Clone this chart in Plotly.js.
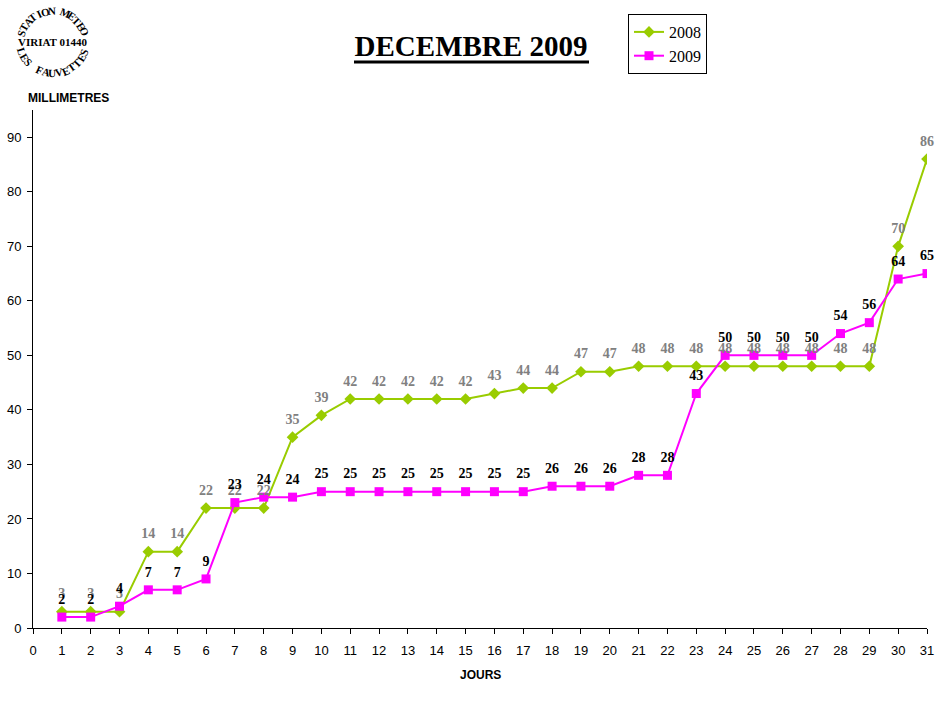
<!DOCTYPE html>
<html>
<head>
<meta charset="utf-8">
<script src="https://cdn.plot.ly/plotly-3.0.1.min.js"></script>
<style>html,body{margin:0;padding:0;background:#fff;}#chart{width:949px;height:715px;}</style>
</head>
<body>
<div id="chart"></div>
<script>
const days = [1,2,3,4,5,6,7,8,9,10,11,12,13,14,15,16,17,18,19,20,21,22,23,24,25,26,27,28,29,30,31];
const rain2008 = [3,3,3,14,14,22,22,22,35,39,42,42,42,42,42,43,44,44,47,47,48,48,48,48,48,48,48,48,48,70,86];
const rain2009 = [2,2,4,7,7,9,23,24,24,25,25,25,25,25,25,25,25,26,26,26,28,28,43,50,50,50,50,54,56,64,65];
const xTicks = [0,1,2,3,4,5,6,7,8,9,10,11,12,13,14,15,16,17,18,19,20,21,22,23,24,25,26,27,28,29,30,31];
const yTicks = [0,10,20,30,40,50,60,70,80,90];
const logoTop = "STATION METEO";
const logoMid = "VIRIAT 01440";
const logoBottom = "LES FAUVETTES";

const W = 949, H = 715, ml = 33, mr = 22, mt = 110, mb = 87;
const pw = W - ml - mr, ph = H - mt - mb;
function px2x(px){ return (px - ml) / pw; }
function py2y(py){ return (H - mb - py) / ph; }

const serif = "Liberation Serif, Times New Roman, serif";
const sans = "Liberation Sans, Arial, sans-serif";

const traces = [
  {
    x: days, y: rain2008, name: "2008", type: "scatter", mode: "lines+markers",
    line: {color: "#99CC00", width: 2},
    marker: {symbol: "diamond", size: 9, color: "#99CC00"},
    hoverinfo: "x+y"
  },
  {
    x: days, y: rain2009, name: "2009", type: "scatter", mode: "lines+markers",
    line: {color: "#FF00FF", width: 2},
    marker: {symbol: "square", size: 9, color: "#FF00FF"},
    hoverinfo: "x+y"
  },
  {
    x: days, y: rain2008, type: "scatter", mode: "markers+text", showlegend: false,
    marker: {size: 14, color: "rgba(0,0,0,0)"},
    text: rain2008.map(String), textposition: "top center",
    textfont: {family: serif, size: 14, color: "#808080", weight: "bold"},
    cliponaxis: false, hoverinfo: "skip"
  },
  {
    x: days, y: rain2009, type: "scatter", mode: "markers+text", showlegend: false,
    marker: {size: 14, color: "rgba(0,0,0,0)"},
    text: rain2009.map(String), textposition: "top center",
    textfont: {family: serif, size: 14, color: "#000000", weight: "bold"},
    cliponaxis: false, hoverinfo: "skip"
  }
];

const annotations = [
  {text: "<b>MILLIMETRES</b>", xref: "paper", yref: "paper", x: px2x(68), y: py2y(98),
   xanchor: "center", yanchor: "middle", showarrow: false, font: {family: sans, size: 12, color: "#000"}},
  {text: "<b>JOURS</b>", xref: "paper", yref: "paper", x: px2x(480), y: py2y(675),
   xanchor: "center", yanchor: "middle", showarrow: false, font: {family: sans, size: 12, color: "#000"}},
  {text: "<b>" + logoMid + "</b>", xref: "paper", yref: "paper", x: px2x(52), y: py2y(42),
   xanchor: "center", yanchor: "middle", showarrow: false, font: {family: serif, size: 11, color: "#000"}}
];

// circular logo lettering
const cx = 53, cy = 42, rx = 33, ry = 31;
function arc(str, a0, a1, bottom){
  const n = str.length;
  for (let i = 0; i < n; i++){
    const ch = str[i];
    if (ch === " ") continue;
    const a = a0 + (a1 - a0) * i / (n - 1);
    const r = a * Math.PI / 180;
    const x = cx + rx * Math.cos(r), y = cy - ry * Math.sin(r);
    const rot = bottom ? (270 - a) : (90 - a);
    annotations.push({text: "<b>" + ch + "</b>", xref: "paper", yref: "paper",
      x: px2x(x), y: py2y(y), xanchor: "center", yanchor: "middle", showarrow: false,
      textangle: rot, font: {family: serif, size: 11, color: "#000"}});
  }
}
arc(logoTop, 163, 20, false);
arc(logoBottom, 197, 341, true);

const layout = {
  width: W, height: H,
  margin: {l: ml, r: mr, t: mt, b: mb, pad: 0},
  paper_bgcolor: "#fff", plot_bgcolor: "#fff",
  title: {text: "<b>DECEMBRE 2009</b>", x: 471 / W, xanchor: "center", y: 1 - 46 / H, yanchor: "middle",
          font: {family: serif, size: 29, color: "#000"}},
  shapes: [
    {type: "line", xref: "paper", yref: "paper", x0: px2x(354), x1: px2x(589), y0: py2y(62), y1: py2y(62),
     line: {color: "#000", width: 3}}
  ],
  xaxis: {range: [0, 31], tickvals: xTicks, ticktext: xTicks.map(String), ticks: "outside", ticklen: 5,
          tickcolor: "#000", showline: true, linecolor: "#000", linewidth: 1, showgrid: false, zeroline: false,
          ticklabelstandoff: 5,
          tickfont: {family: sans, size: 13, color: "#000"}, fixedrange: true},
  yaxis: {range: [0, 95], tickvals: yTicks, ticktext: yTicks.map(String), ticks: "outside", ticklen: 5,
          tickcolor: "#000", showline: true, linecolor: "#000", linewidth: 1, showgrid: false, zeroline: false,
          ticklabelstandoff: 3,
          tickfont: {family: sans, size: 13, color: "#000"}, fixedrange: true},
  showlegend: true,
  legend: {x: px2x(628), y: py2y(14), xanchor: "left", yanchor: "top", bgcolor: "#fff",
           bordercolor: "#000", borderwidth: 1, font: {family: serif, size: 16, color: "#000"},
           tracegroupgap: 0, itemwidth: 30},
  annotations: annotations
};

Plotly.newPlot("chart", traces, layout, {displayModeBar: false, staticPlot: true});
</script>
</body>
</html>
